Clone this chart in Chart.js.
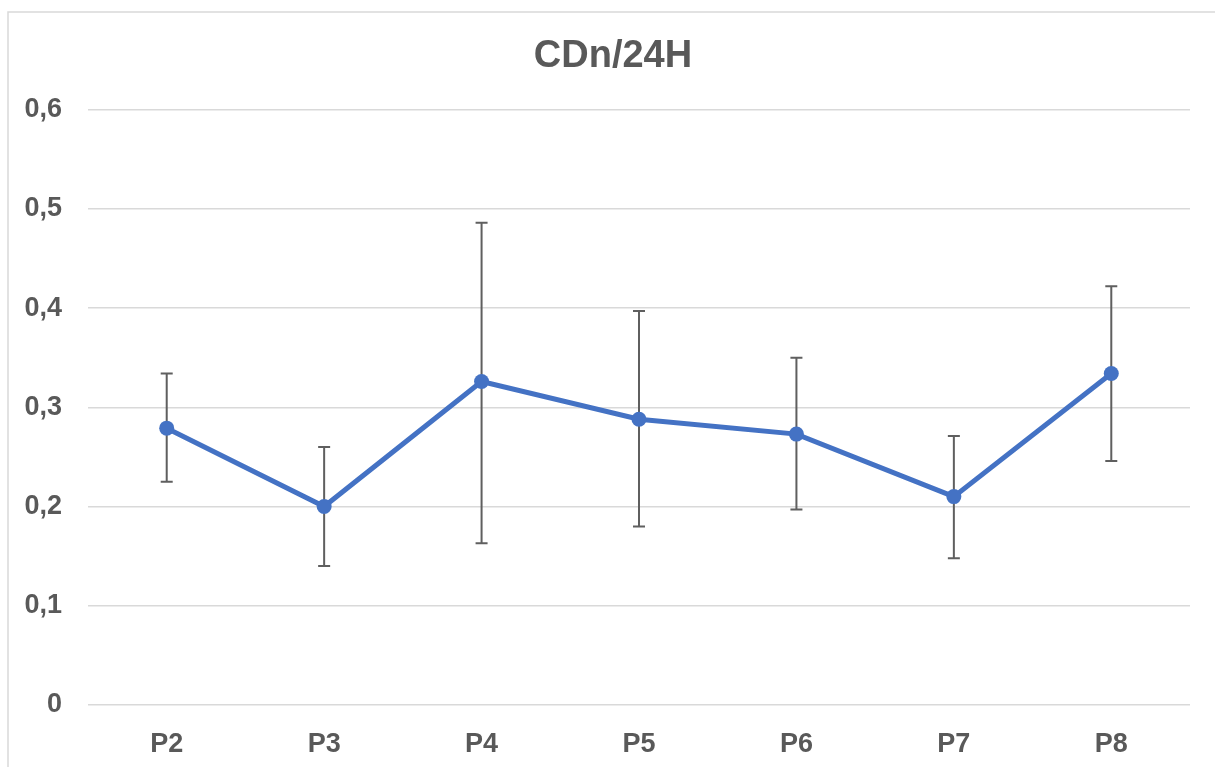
<!DOCTYPE html>
<html>
<head>
<meta charset="utf-8">
<script src="https://cdn.jsdelivr.net/npm/chart.js@4/dist/chart.umd.min.js"></script>
<style>
  html, body { margin: 0; padding: 0; background: #fff; }
  #wrap { width: 1215px; height: 767px; position: relative; }
</style>
</head>
<body>
<div id="wrap"><canvas id="cdn-chart"></canvas></div>
<script>
const labels = ["P2", "P3", "P4", "P5", "P6", "P7", "P8"];
const means = [0.279, 0.200, 0.326, 0.288, 0.273, 0.210, 0.334];
const errLow = [0.225, 0.140, 0.163, 0.180, 0.197, 0.148, 0.246];
const errHigh = [0.334, 0.260, 0.486, 0.397, 0.350, 0.271, 0.422];
const yTicks = [0, 0.1, 0.2, 0.3, 0.4, 0.5, 0.6];

const textColor = "#595959";
const fontFamily = "'Liberation Sans', Arial, sans-serif";

// light frame around the chart, like the Excel chart border
// (also nudges the title a bit right, it is centred on the whole frame in the original)
const framePlugin = {
  id: "frame",
  afterLayout(chart) {
    if (chart.titleBlock) chart.titleBlock.left += 36;
  },
  beforeDraw(chart) {
    const { ctx } = chart;
    ctx.save();
    ctx.strokeStyle = "#d9d9d9";
    ctx.lineWidth = 1.5;
    ctx.strokeRect(8, 12, chart.width + 20, chart.height + 20);
    ctx.restore();
  },
};

// vertical error bars with caps, taken from errLow / errHigh
const errorBars = {
  id: "errorBars",
  beforeDatasetsDraw(chart) {
    const { ctx, scales } = chart;
    const meta = chart.getDatasetMeta(0);
    ctx.save();
    ctx.strokeStyle = "#5f5f5f";
    ctx.lineWidth = 2;
    meta.data.forEach((pt, i) => {
      const x = pt.x;
      const y1 = scales.y.getPixelForValue(errLow[i]);
      const y2 = scales.y.getPixelForValue(errHigh[i]);
      ctx.beginPath();
      ctx.moveTo(x, y1);
      ctx.lineTo(x, y2);
      ctx.moveTo(x - 6, y1);
      ctx.lineTo(x + 6, y1);
      ctx.moveTo(x - 6, y2);
      ctx.lineTo(x + 6, y2);
      ctx.stroke();
    });
    ctx.restore();
  },
};

const ctx = document.getElementById("cdn-chart");

new Chart(ctx, {
  type: "line",
  data: {
    labels,
    datasets: [
      {
        label: "CDn/24H",
        data: means,
        borderColor: "#4472c4",
        backgroundColor: "#4472c4",
        borderWidth: 5,
        pointRadius: 7.5,
        pointBorderWidth: 0,
        tension: 0,
      },
    ],
  },
  options: {
    responsive: true,
    maintainAspectRatio: false,
    animation: false,
    layout: { padding: { top: 0, right: 25, bottom: 0, left: 0 } },
    plugins: {
      legend: { display: false },
      tooltip: { enabled: false },
      title: {
        display: true,
        text: "CDn/24H",
        color: textColor,
        font: { family: fontFamily, size: 38, weight: "bold" },
        padding: { top: 34, bottom: 30 },
      },
    },
    scales: {
      x: {
        offset: true,
        afterFit(scale) { scale.height = 62; },
        grid: { display: false },
        border: { display: false },
        ticks: {
          color: textColor,
          padding: 15,
          maxRotation: 0,
          font: { family: fontFamily, size: 27, weight: "bold" },
        },
      },
      y: {
        min: 0,
        max: 0.6,
        afterFit(scale) { scale.width = 88; },
        afterBuildTicks(scale) { scale.ticks = yTicks.map((v) => ({ value: v })); },
        grid: { color: "#d9d9d9", lineWidth: 1.5, drawTicks: false },
        border: { display: false },
        ticks: {
          color: textColor,
          padding: 26,
          font: { family: fontFamily, size: 27, weight: "bold" },
          callback: (v) => (v === 0 ? "0" : String(Math.round(v * 10) / 10).replace(".", ",")),
        },
      },
    },
  },
  plugins: [framePlugin, errorBars],
});
</script>
</body>
</html>
